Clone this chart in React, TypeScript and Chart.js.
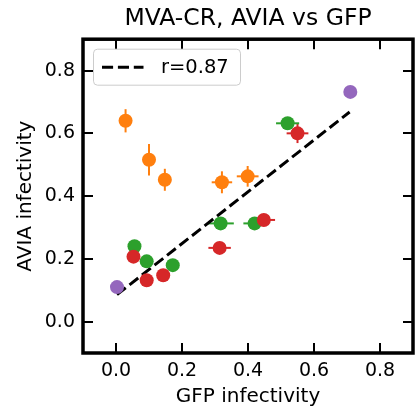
import React, { useEffect, useRef } from "react";
import { Chart, registerables } from "chart.js";

Chart.register(...registerables);

const TITLE = "MVA-CR, AVIA vs GFP";
const X_LABEL = "GFP infectivity";
const Y_LABEL = "AVIA infectivity";
const LEGEND_LABEL = "r=0.87";

const X_TICKS = [0.0, 0.2, 0.4, 0.6, 0.8];
const Y_TICKS = [0.0, 0.2, 0.4, 0.6, 0.8];

// orange series
const orangeX = [0.029, 0.1, 0.148, 0.321, 0.399];
const orangeY = [0.64, 0.516, 0.452, 0.444, 0.463];
const orangeXErr = [0, 0, 0, 0.031, 0.033];
const orangeYErr = [0.037, 0.05, 0.035, 0.035, 0.033];

// green series
const greenX = [0.056, 0.093, 0.172, 0.317, 0.42, 0.52];
const greenY = [0.24, 0.192, 0.18, 0.313, 0.313, 0.632];
const greenXErr = [0, 0, 0, 0.04, 0.034, 0.035];
const greenYErr = [0, 0, 0, 0, 0, 0];

// red series
const redX = [0.053, 0.093, 0.143, 0.314, 0.448, 0.55];
const redY = [0.207, 0.132, 0.148, 0.235, 0.324, 0.6];
const redXErr = [0, 0, 0, 0.034, 0.034, 0.033];
const redYErr = [0, 0, 0, 0, 0, 0.031];

// purple series
const purpleX = [0.003, 0.71];
const purpleY = [0.11, 0.732];

// fit line endpoints
const fitX = [0.003, 0.708];
const fitY = [0.086, 0.668];

const FONT = "'DejaVu Sans', sans-serif";

const toPts = (xs: number[], ys: number[]) => xs.map((x, i) => ({ x, y: ys[i] }));

const errorSets: Record<string, { xe: number[]; ye: number[] }> = {
  orange: { xe: orangeXErr, ye: orangeYErr },
  green: { xe: greenXErr, ye: greenYErr },
  red: { xe: redXErr, ye: redYErr },
};

const errPlugin = {
  id: "errbars",
  beforeDatasetsDraw(chart: any) {
    const { ctx } = chart;
    const xs = chart.scales.x;
    const ys = chart.scales.y;
    ctx.save();
    ctx.lineWidth = 2;
    ctx.lineCap = "butt";
    chart.data.datasets.forEach((ds: any) => {
      const err = errorSets[ds.label];
      if (!err) return;
      ctx.strokeStyle = ds.backgroundColor;
      ds.data.forEach((p: any, i: number) => {
        const px = xs.getPixelForValue(p.x);
        const py = ys.getPixelForValue(p.y);
        const xe = err.xe[i];
        const ye = err.ye[i];
        if (xe) {
          ctx.beginPath();
          ctx.moveTo(xs.getPixelForValue(p.x - xe), py);
          ctx.lineTo(xs.getPixelForValue(p.x + xe), py);
          ctx.stroke();
        }
        if (ye) {
          ctx.beginPath();
          ctx.moveTo(px, ys.getPixelForValue(p.y - ye));
          ctx.lineTo(px, ys.getPixelForValue(p.y + ye));
          ctx.stroke();
        }
      });
    });
    ctx.restore();
  },
};

const framePlugin = {
  id: "frame",
  afterDatasetsDraw(chart: any) {
    const { ctx, chartArea: a } = chart;
    const xs = chart.scales.x;
    const ys = chart.scales.y;
    const L = 10;
    ctx.save();
    ctx.strokeStyle = "#000";
    ctx.lineWidth = 2;
    xs.ticks.forEach((t: any) => {
      const px = Math.round(xs.getPixelForValue(t.value));
      ctx.beginPath();
      ctx.moveTo(px, a.bottom);
      ctx.lineTo(px, a.bottom - L);
      ctx.moveTo(px, a.top);
      ctx.lineTo(px, a.top + L);
      ctx.stroke();
    });
    ys.ticks.forEach((t: any) => {
      const py = Math.round(ys.getPixelForValue(t.value));
      ctx.beginPath();
      ctx.moveTo(a.left, py);
      ctx.lineTo(a.left + L, py);
      ctx.moveTo(a.right, py);
      ctx.lineTo(a.right - L, py);
      ctx.stroke();
    });
    ctx.lineWidth = 3.5;
    ctx.strokeRect(a.left, a.top, a.right - a.left, a.bottom - a.top);
    ctx.restore();
  },
  afterDraw(chart: any) {
    const { ctx, chartArea: a } = chart;
    const bx = a.left + 10.5;
    const by = a.top + 10;
    const bw = 147;
    const bh = 36;
    ctx.save();
    ctx.beginPath();
    if (ctx.roundRect) ctx.roundRect(bx, by, bw, bh, 4);
    else ctx.rect(bx, by, bw, bh);
    ctx.fillStyle = "rgba(255,255,255,0.8)";
    ctx.fill();
    ctx.strokeStyle = "#cccccc";
    ctx.lineWidth = 1;
    ctx.stroke();
    const ly = by + 18;
    ctx.beginPath();
    ctx.setLineDash([11.1, 4.8]);
    ctx.lineWidth = 3;
    ctx.strokeStyle = "#000";
    ctx.moveTo(bx + 8.5, ly);
    ctx.lineTo(bx + 50, ly);
    ctx.stroke();
    ctx.setLineDash([]);
    ctx.fillStyle = "#000";
    ctx.font = `19.5px ${FONT}`;
    ctx.textBaseline = "middle";
    ctx.textAlign = "left";
    ctx.fillText(LEGEND_LABEL, bx + 67.5, ly + 1);
    ctx.restore();
  },
};

export default function App() {
  const ref = useRef<HTMLCanvasElement>(null);

  useEffect(() => {
    if (!ref.current) return;
    const chart = new Chart(ref.current, {
      type: "scatter",
      data: {
        datasets: [
          {
            label: "purple",
            data: toPts(purpleX, purpleY),
            backgroundColor: "#9467bd",
            borderWidth: 0,
            pointRadius: 7,
          },
          {
            label: "red",
            data: toPts(redX, redY),
            backgroundColor: "#d62728",
            borderWidth: 0,
            pointRadius: 7,
          },
          {
            label: "green",
            data: toPts(greenX, greenY),
            backgroundColor: "#2ca02c",
            borderWidth: 0,
            pointRadius: 7,
          },
          {
            label: "orange",
            data: toPts(orangeX, orangeY),
            backgroundColor: "#ff7f0e",
            borderWidth: 0,
            pointRadius: 7,
          },
          {
            type: "line",
            label: "fit",
            data: toPts(fitX, fitY),
            borderColor: "#000",
            borderWidth: 3,
            borderDash: [11.1, 4.8],
            pointRadius: 0,
            showLine: true,
            fill: false,
          } as any,
        ],
      },
      options: {
        responsive: false,
        animation: false,
        devicePixelRatio: 1,
        layout: { padding: { right: 3, top: 0, left: 0, bottom: 0 } },
        plugins: {
          legend: { display: false },
          tooltip: { enabled: false },
          title: {
            display: true,
            text: TITLE,
            fullSize: false,
            color: "#000",
            font: { family: FONT, size: 23.5, weight: "normal" },
            padding: { top: 5, bottom: 6 },
          },
        },
        scales: {
          x: {
            type: "linear",
            min: -0.1,
            max: 0.9,
            grid: { display: false, drawTicks: false },
            border: { display: false },
            afterBuildTicks: (s: any) => {
              s.ticks = X_TICKS.map((v) => ({ value: v }));
            },
            afterFit: (s: any) => {
              s.height = 58;
              s.paddingLeft = 0;
              s.paddingRight = 0;
            },
            ticks: {
              color: "#000",
              padding: 7,
              font: { family: FONT, size: 19 },
              maxRotation: 0,
              callback: (v: any) => Number(v).toFixed(1),
            },
            title: {
              display: true,
              text: X_LABEL,
              color: "#000",
              font: { family: FONT, size: 20 },
              padding: { top: 0, bottom: 2 },
            },
          },
          y: {
            type: "linear",
            min: -0.1,
            max: 0.9,
            grid: { display: false, drawTicks: false },
            border: { display: false },
            afterBuildTicks: (s: any) => {
              s.ticks = Y_TICKS.map((v) => ({ value: v }));
            },
            afterFit: (s: any) => {
              s.width = 83;
              s.paddingTop = 0;
              s.paddingBottom = 0;
            },
            ticks: {
              color: "#000",
              padding: 8,
              font: { family: FONT, size: 19 },
              callback: (v: any) => Number(v).toFixed(1),
            },
            title: {
              display: true,
              text: Y_LABEL,
              color: "#000",
              font: { family: FONT, size: 20 },
              padding: { top: 14, bottom: 0 },
            },
          },
        },
      } as any,
      plugins: [errPlugin, framePlugin],
    });
    return () => chart.destroy();
  }, []);

  return (
    <div style={{ position: "absolute", left: 0, top: 0, width: 420, height: 411, background: "#fff" }}>
      <canvas ref={ref} width={420} height={411} style={{ display: "block" }} />
    </div>
  );
}
